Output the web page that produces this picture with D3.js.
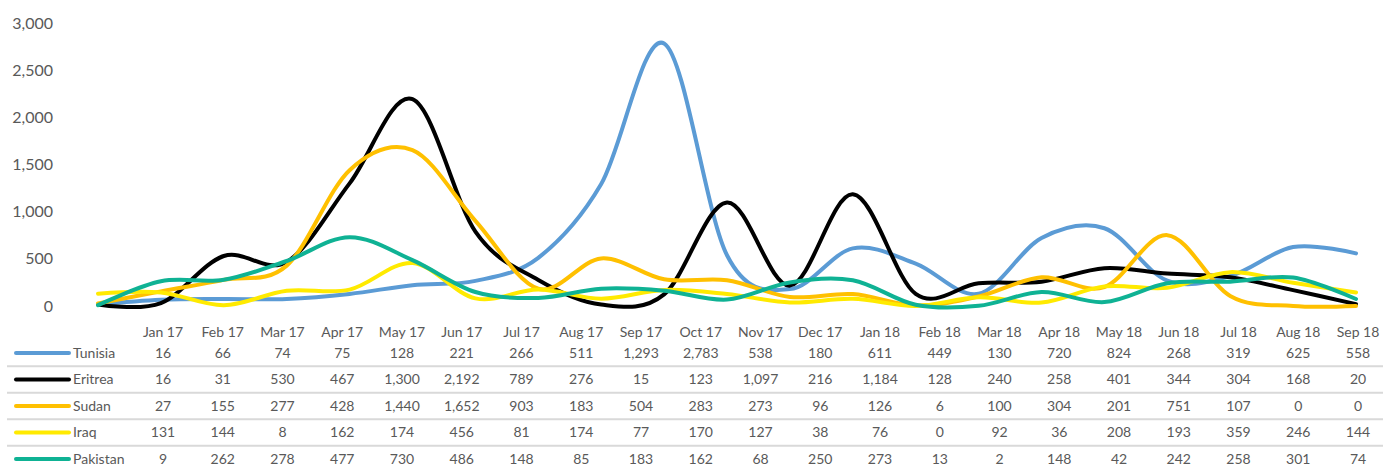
<!DOCTYPE html>
<html>
<head>
<meta charset="utf-8">
<script src="https://cdn.jsdelivr.net/npm/d3@7/dist/d3.min.js"></script>
<style>
  html, body { margin: 0; padding: 0; background: #fff; }
  svg { display: block; font-family: Lato, "Open Sans", sans-serif; }
</style>
</head>
<body>
<svg id="chart" width="1383" height="464"></svg>
<script>
// Monthly arrivals by nationality, Jan 2017 – Sep 2018
const months = ["Jan 17","Feb 17","Mar 17","Apr 17","May 17","Jun 17","Jul 17","Aug 17","Sep 17","Oct 17","Nov 17","Dec 17",
                "Jan 18","Feb 18","Mar 18","Apr 18","May 18","Jun 18","Jul 18","Aug 18","Sep 18"];
const seriesNames = ["Tunisia","Eritrea","Sudan","Iraq","Pakistan"];
const tunisia  = [16,66,74,75,128,221,266,511,1293,2783,538,180,611,449,130,720,824,268,319,625,558];
const eritrea  = [16,31,530,467,1300,2192,789,276,15,123,1097,216,1184,128,240,258,401,344,304,168,20];
const sudan    = [27,155,277,428,1440,1652,903,183,504,283,273,96,126,6,100,304,201,751,107,0,0];
const iraq     = [131,144,8,162,174,456,81,174,77,170,127,38,76,0,92,36,208,193,359,246,144];
const pakistan = [9,262,278,477,730,486,148,85,183,162,68,250,273,13,2,148,42,242,258,301,74];
const seriesColors = ["#5B9BD5","#000000","#FFC000","#FFEA00","#0FB294"];
const yTicks = [0,500,1000,1500,2000,2500,3000];

const allValues = [tunisia, eritrea, sudan, iraq, pakistan];
const series = seriesNames.map((name, i) => ({ name, values: allValues[i], color: seriesColors[i] }));

const svg = d3.select("#chart");
const fmt = d3.format(",");
const textColor = "#595959";

// Scales: the plot uses its own horizontal span, the data table its own columns
const x = d3.scalePoint().domain(months).range([98, 1356]);
const xTable = d3.scalePoint().domain(months).range([163, 1358]);
const y = d3.scaleLinear().domain([0, 3000]).range([306, 23]);

// Value axis (labels only, no line or grid)
const yAxis = svg.append("g")
  .attr("transform", "translate(53,0)")
  .call(d3.axisLeft(y).tickValues(yTicks).tickFormat(fmt).tickSize(0).tickPadding(0));
yAxis.select(".domain").remove();
yAxis.selectAll("text")
  .attr("fill", textColor)
  .style("font-size", "16px")
  .style("font-family", "Lato, sans-serif");

// Smoothed lines
const line = d3.line()
  .x((d, i) => x(months[i]))
  .y(d => y(d))
  .curve(d3.curveCardinal.tension(0));

svg.append("g").selectAll("path")
  .data(series)
  .join("path")
  .attr("d", d => line(d.values))
  .attr("fill", "none")
  .attr("stroke", d => d.color)
  .attr("stroke-width", 4)
  .attr("stroke-linecap", "round")
  .attr("stroke-linejoin", "round");

// Data table
const headerY = 332;
const rowY = d3.scalePoint().domain(seriesNames).range([353, 459]);
const rowStep = rowY.step();

const table = svg.append("g").style("font-size", "14px").attr("fill", textColor);

table.selectAll("text.month")
  .data(months)
  .join("text")
  .attr("class", "month")
  .attr("x", d => xTable(d))
  .attr("y", headerY)
  .attr("dy", "0.35em")
  .attr("text-anchor", "middle")
  .text(d => d);

// Row separators
table.selectAll("line.sep")
  .data(seriesNames.slice(1))
  .join("line")
  .attr("class", "sep")
  .attr("x1", 7).attr("x2", 1383)
  .attr("y1", d => rowY(d) - rowStep / 2)
  .attr("y2", d => rowY(d) - rowStep / 2)
  .attr("stroke", "#D9D9D9")
  .attr("stroke-width", 2);

const rows = table.selectAll("g.row")
  .data(series)
  .join("g")
  .attr("class", "row")
  .attr("transform", d => `translate(0,${rowY(d.name)})`);

rows.append("line")
  .attr("x1", 16).attr("x2", 69)
  .attr("y1", 0).attr("y2", 0)
  .attr("stroke", d => d.color)
  .attr("stroke-width", 4)
  .attr("stroke-linecap", "round");

rows.append("text")
  .attr("x", 73)
  .attr("dy", "0.35em")
  .text(d => d.name);

rows.selectAll("text.val")
  .data(d => d.values.map((v, i) => ({ v, m: months[i] })))
  .join("text")
  .attr("class", "val")
  .attr("x", d => xTable(d.m))
  .attr("dy", "0.35em")
  .attr("text-anchor", "middle")
  .text(d => fmt(d.v));
</script>
</body>
</html>
